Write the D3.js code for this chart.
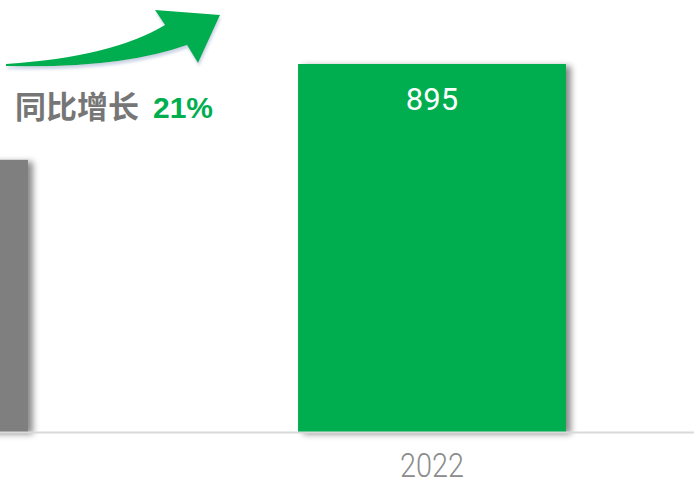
<!DOCTYPE html>
<html>
<head>
<meta charset="utf-8">
<script src="https://cdn.jsdelivr.net/npm/d3@7"></script>
<style>
  html, body { margin: 0; padding: 0; background: #fff; }
  svg { display: block; }
</style>
</head>
<body>
<svg id="chart" width="694" height="480"></svg>
<script>
// Yearly totals
const years = ["2021", "2022"];
const values = [662, 895];
const barColors = ["#7f7f7f", "#00ae4f"];
const labelled = [false, true];
const growthLabel = "同比增长";
const growthValue = "21%";

const W = 694, H = 480;
const svg = d3.select("#chart");

const defs = svg.append("defs");
defs.append("filter").attr("id", "barShadow")
  .attr("x", "-10%").attr("y", "-10%").attr("width", "130%").attr("height", "130%")
  .append("feDropShadow")
  .attr("dx", 5).attr("dy", 2).attr("stdDeviation", 3)
  .attr("flood-color", "#000").attr("flood-opacity", 0.45);
defs.append("filter").attr("id", "arrowShadow")
  .attr("x", "-10%").attr("y", "-20%").attr("width", "130%").attr("height", "160%")
  .append("feDropShadow")
  .attr("dx", 1).attr("dy", 3).attr("stdDeviation", 1.5)
  .attr("flood-color", "#8c9dc4").attr("flood-opacity", 0.45);

const x = d3.scaleBand()
  .domain(years)
  .range([-375, 701])
  .paddingInner(0.502)
  .paddingOuter(0.251);

const y = d3.scaleLinear()
  .domain([0, 895])
  .range([432, 64]);

// Bars
svg.append("g").selectAll("rect")
  .data(years)
  .join("rect")
  .attr("x", d => x(d))
  .attr("y", (d, i) => y(values[i]))
  .attr("width", x.bandwidth())
  .attr("height", (d, i) => y(0) - y(values[i]))
  .attr("fill", (d, i) => barColors[i])
  .attr("filter", "url(#barShadow)");

// Baseline + year labels (only those whose band centre lies inside the view)
const axis = svg.append("g")
  .attr("transform", `translate(0,${y(0)})`)
  .call(d3.axisBottom(x).tickSize(0).tickPadding(0).tickSizeOuter(0));
axis.select(".domain")
  .attr("d", `M0,0.5H${W}`)
  .attr("stroke", "#d9d9d9").attr("stroke-width", 2);
axis.selectAll(".tick")
  .filter(d => x(d) + x.bandwidth() / 2 < 0)
  .remove();
axis.selectAll(".tick text")
  .attr("dy", null)
  .attr("y", 45)
  .attr("fill", "#8c8c8c")
  .attr("font-family", "Roboto, 'Liberation Sans', sans-serif")
  .attr("font-weight", 300)
  .attr("font-size", 34)
  .attr("textLength", 64)
  .attr("lengthAdjust", "spacingAndGlyphs")
  .attr("text-anchor", "middle");

// Value labels inside bars
svg.append("g").selectAll("text")
  .data(years.filter((d, i) => labelled[i]))
  .join("text")
  .attr("x", d => x(d) + x.bandwidth() / 2)
  .attr("y", d => y(values[years.indexOf(d)]) + 46)
  .attr("text-anchor", "middle")
  .attr("fill", "#fff")
  .attr("font-family", "Roboto, 'Liberation Sans', sans-serif")
  .attr("font-weight", 400)
  .attr("font-size", 31)
  .text(d => values[years.indexOf(d)]);

// Growth arrow
const arrow = d3.path();
arrow.moveTo(6, 64);
arrow.quadraticCurveTo(112, 57, 165, 25);
arrow.lineTo(155, 10);
arrow.lineTo(220, 15);
arrow.lineTo(198, 63);
arrow.lineTo(187, 45);
arrow.quadraticCurveTo(120, 69, 6, 66);
arrow.closePath();
svg.append("path")
  .attr("d", arrow.toString())
  .attr("fill", "#00ae4f")
  .attr("filter", "url(#arrowShadow)");

// Growth caption
const caption = svg.append("text")
  .attr("x", 15).attr("y", 118)
  .attr("font-weight", "bold");
caption.append("tspan")
  .attr("font-family", "'Noto Sans CJK SC', sans-serif")
  .attr("font-size", 31)
  .attr("fill", "#767676")
  .text(growthLabel);
caption.append("tspan")
  .attr("x", 153)
  .attr("font-family", "'Liberation Sans', Arial, sans-serif")
  .attr("font-size", 30)
  .attr("fill", "#00ae4f")
  .text(growthValue);
</script>
</body>
</html>
